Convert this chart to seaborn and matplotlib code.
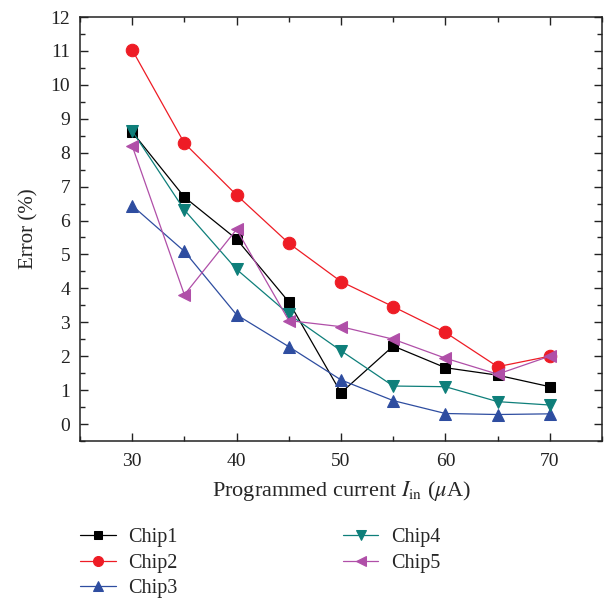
import matplotlib
matplotlib.use("Agg")
import matplotlib.pyplot as plt
import seaborn as sns
import pandas as pd
from matplotlib.ticker import MultipleLocator

currents = [30, 35, 40, 45, 50, 55, 60, 65, 70]
chip1 = [8.61, 6.69, 5.45, 3.60, 0.92, 2.30, 1.66, 1.44, 1.10]
chip2 = [11.03, 8.28, 6.75, 5.33, 4.20, 3.46, 2.70, 1.69, 2.00]
chip3 = [6.44, 5.09, 3.22, 2.28, 1.30, 0.69, 0.31, 0.28, 0.30]
chip4 = [8.64, 6.31, 4.56, 3.24, 2.16, 1.12, 1.10, 0.66, 0.56]
chip5 = [8.20, 3.81, 5.74, 3.05, 2.87, 2.50, 1.94, 1.47, 2.00]
names = ["Chip1", "Chip2", "Chip3", "Chip4", "Chip5"]

sns.set_theme(style="ticks")
plt.rcParams["font.family"] = ["Liberation Serif", "DejaVu Serif"]
plt.rcParams["mathtext.fontset"] = "stix"

colors = ["#000000", "#ee1c25", "#2e4da0", "#0e7f7a", "#b04fa8"]
markers = ["s", "o", "^", "v", "<"]
msizes = [7, 9, 9, 9, 9]

fig = plt.figure(figsize=(6.12, 6.03), dpi=100)
ax = fig.add_axes([0.1307, 0.2687, 0.8530, 0.7031])

for name, vals, c, m, ms in zip(names, [chip1, chip2, chip3, chip4, chip5], colors, markers, msizes):
    df = pd.DataFrame({"x": currents, "y": vals})
    sns.lineplot(data=df, x="x", y="y", ax=ax, color=c, marker=m, markersize=ms,
                 markeredgecolor=c, linewidth=0.9, label=name, legend=False)

ax.set_xlim(25, 75)
ax.set_ylim(-0.5, 12)
ax.xaxis.set_major_locator(MultipleLocator(10))
ax.xaxis.set_minor_locator(MultipleLocator(5))
ax.yaxis.set_major_locator(MultipleLocator(1))
ax.yaxis.set_minor_locator(MultipleLocator(0.5))
ax.tick_params(which="both", direction="in", top=True, right=True, labelsize=14, colors="#222222")
ax.tick_params(which="major", length=6, width=1)
ax.tick_params(which="minor", length=3.5, width=1)
ax.tick_params(axis="x", which="major", pad=9)
ax.tick_params(axis="y", which="major", pad=7)
for s in ax.spines.values():
    s.set_linewidth(1.1)
    s.set_color("#222222")

ax.set_xlabel(r"Programmed current $I_{\mathrm{in}}$ ($\mu$A)", fontsize=16, labelpad=6)
ax.set_ylabel("Error (%)", fontsize=15, labelpad=9)

handles, labels = ax.get_legend_handles_labels()
leg = fig.legend(handles, labels, loc="upper left", ncol=2, frameon=False, fontsize=14.5,
                 handlelength=1.75, columnspacing=8.2, labelspacing=0.32, handletextpad=0.65,
                 borderaxespad=0, markerscale=0.8)
leg.set_bbox_to_anchor((0.118, 1 - 520 / 603), transform=fig.transFigure)

fig.savefig("out.png", dpi=100)
